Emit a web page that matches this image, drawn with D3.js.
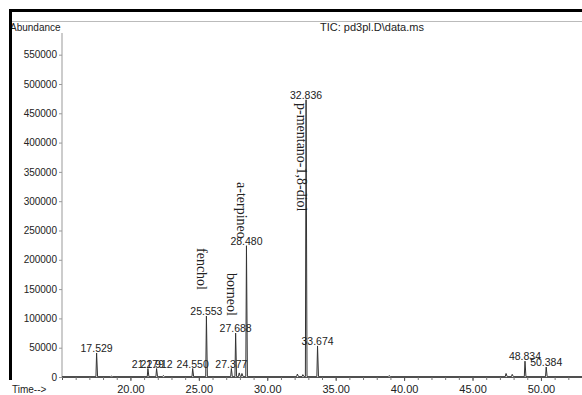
<!DOCTYPE html>
<html>
<head>
<meta charset="utf-8">
<script src="https://cdn.jsdelivr.net/npm/d3@7"></script>
<style>
	body { margin: 0; background: #fff; }
	svg { display: block; }
	.axis text { font-family: "Liberation Sans", Arial, sans-serif; fill: #222; }
	.peak-label { font-family: "Liberation Sans", Arial, sans-serif; font-size: 10.5px; fill: #222; }
	.peak-name { font-family: "Liberation Serif", "Times New Roman", serif; font-size: 14px; fill: #222; }
</style>
</head>
<body>
<div id="canvas"></div>
<script>
/* global d3 */

// Labelled peaks (retention time, abundance)
var peakTimes = [17.529, 21.279, 21.912, 24.550, 25.553, 27.377, 27.688, 28.480, 32.836, 33.674, 48.834, 50.384],
	peakHeights = [41000, 14500, 14500, 14500, 104000, 14500, 75000, 224000, 473000, 53000, 27000, 17000];

// Small unlabelled bumps
var minorTimes = [18.6, 22.4, 27.95, 28.15, 32.2, 32.6, 38.9, 47.45, 47.9],
	minorHeights = [1500, 2500, 7000, 6000, 5000, 4000, 2500, 6000, 4500];

// Compound names written beside peaks
var nameTimes = [25.553, 27.688, 28.480, 32.836],
	names = ['fenchol', 'borneol', 'a-terpineo', 'p-mentano-1,8-diol'];

var xTicks = [20, 25, 30, 35, 40, 45, 50],
	yTicks = [0, 50000, 100000, 150000, 200000, 250000, 300000, 350000, 400000, 450000, 500000, 550000];

var width = 582,
	height = 395,
	// top y of each rotated name, in pixels
	nameTop = { 'fenchol': 248, 'borneol': 273, 'a-terpineo': 182, 'p-mentano-1,8-diol': 103 };

var svg = d3.select('#canvas').append('svg')
	.attr('width', width)
	.attr('height', height);

var x = d3.scaleLinear().domain([15, 53]).range([62, 582]),
	y = d3.scaleLinear().domain([0, 587000]).range([377, 33]);

// faint rule under the header
svg.append('line')
	.attr('x1', 10).attr('x2', width)
	.attr('y1', 21.5).attr('y2', 21.5)
	.attr('stroke', '#bbb');

svg.append('text')
	.attr('x', 10).attr('y', 31)
	.style('font-family', '"Liberation Sans", Arial, sans-serif')
	.style('font-size', '10px')
	.attr('fill', '#222')
	.text('Abundance');

svg.append('text')
	.attr('x', 320).attr('y', 31)
	.style('font-family', '"Liberation Sans", Arial, sans-serif')
	.style('font-size', '11px')
	.attr('fill', '#222')
	.text('TIC: pd3pl.D\\data.ms');

svg.append('text')
	.attr('x', 12).attr('y', 393)
	.style('font-family', '"Liberation Sans", Arial, sans-serif')
	.style('font-size', '10px')
	.attr('fill', '#222')
	.text('Time-->');

// y axis
var gY = svg.append('g')
	.attr('class', 'axis')
	.attr('transform', 'translate(' + x(15) + ',0)')
	.call(d3.axisLeft(y).tickValues(yTicks).tickSize(3).tickPadding(2).tickFormat(d3.format('d')));
gY.select('.domain').attr('stroke', '#999').attr('d', 'M0,' + y(0) + 'V' + y(587000));
gY.selectAll('.tick line').attr('stroke', '#999');
gY.selectAll('text').style('font-size', '10px');

// x axis: minor ticks every minute, labelled every five
var gXMinor = svg.append('g')
	.attr('transform', 'translate(0,' + y(0) + ')')
	.call(d3.axisBottom(x).tickValues(d3.range(16, 53)).tickSize(3).tickFormat(''));
gXMinor.select('.domain').attr('stroke', '#555');
gXMinor.selectAll('.tick line').attr('stroke', '#777');

var gX = svg.append('g')
	.attr('class', 'axis')
	.attr('transform', 'translate(0,' + y(0) + ')')
	.call(d3.axisBottom(x).tickValues(xTicks).tickSize(4).tickPadding(4).tickFormat(d3.format('.2f')));
gX.select('.domain').remove();
gX.selectAll('.tick line').attr('stroke', '#555');
gX.selectAll('text').style('font-size', '11px');

// chromatogram trace
var pts = [];
peakTimes.forEach(function(t, i) {
	pts.push({ t: t, h: peakHeights[i], w: 0.05 });
});
minorTimes.forEach(function(t, i) {
	pts.push({ t: t, h: minorHeights[i], w: 0.06 });
});
pts.sort(function(a, b) { return a.t - b.t; });

var trace = [[15, 600]];
pts.forEach(function(p) {
	trace.push([p.t - p.w, 600]);
	trace.push([p.t, p.h]);
	trace.push([p.t + p.w * 1.4, 600]);
});
trace.push([53, 600]);

svg.append('path')
	.datum(trace)
	.attr('fill', 'none')
	.attr('stroke', '#333')
	.attr('stroke-width', 1)
	.attr('d', d3.line()
		.x(function(d) { return x(d[0]); })
		.y(function(d) { return y(d[1]); }));

// retention time labels
svg.selectAll('.peak-label')
	.data(peakTimes)
	.enter()
	.append('text')
	.attr('class', 'peak-label')
	.attr('text-anchor', 'middle')
	.attr('x', function(d) { return x(d); })
	.attr('y', function(d, i) { return y(peakHeights[i]) - 1; })
	.text(function(d) { return d3.format('.3f')(d); });

// compound names, rotated
svg.selectAll('.peak-name')
	.data(names)
	.enter()
	.append('text')
	.attr('class', 'peak-name')
	.attr('transform', function(d, i) {
		return 'translate(' + (x(nameTimes[i]) - 9) + ',' + nameTop[d] + ') rotate(90)';
	})
	.text(function(d) { return d; });

// scanned page border
svg.append('rect').attr('x', 9).attr('y', 9).attr('width', width - 9).attr('height', 3).attr('fill', '#000');
svg.append('rect').attr('x', 9).attr('y', 9).attr('width', 3).attr('height', 371).attr('fill', '#000');
</script>
</body>
</html>
